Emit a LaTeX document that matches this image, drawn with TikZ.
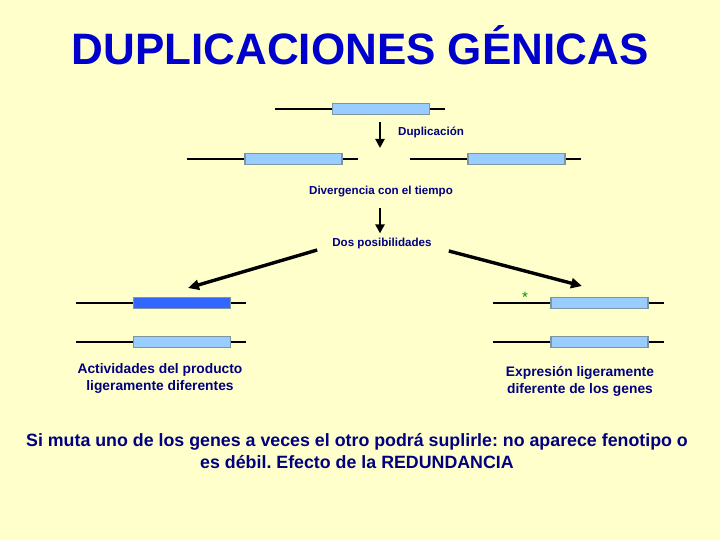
\documentclass[tikz,border=0pt]{standalone}
\usepackage{fontspec}
\setmainfont{Liberation Sans}
\usetikzlibrary{arrows.meta,positioning,calc}
\definecolor{gnbg}{RGB}{255,255,204}
\definecolor{gnbox}{RGB}{153,204,255}
\definecolor{gndark}{RGB}{51,102,255}
\definecolor{gnedge}{RGB}{125,150,160}
\definecolor{gntext}{RGB}{0,0,128}
\definecolor{gntitle}{RGB}{0,0,204}
\definecolor{gnstar}{RGB}{0,140,0}
\tikzset{
  gene/.style={
    draw=gnedge, line width=1.5pt, fill=gnbox,
    minimum width=97pt, minimum height=11pt, inner sep=0pt
  },
  mut/.style={gene, fill=gndark},
  dna/.style={draw=black, line width=2.8pt},
  arr/.style={-{Triangle[length=9pt,width=9pt]}, draw=black, line width=2.8pt},
  darr/.style={arr, line width=3.4pt, -{Triangle[length=11pt,width=10pt]}},
  lbl/.style={text=gntext, font=\bfseries\fontsize{11.6}{13}\selectfont, inner sep=0pt},
  note/.style={text=gntext, font=\bfseries\fontsize{13.8}{17}\selectfont, align=center, inner sep=0pt},
  big/.style={text=gntext, font=\bfseries\fontsize{17.8}{22}\selectfont, align=center, inner sep=0pt},
  ttl/.style={text=gntitle, font=\bfseries\fontsize{44}{48}\selectfont, inner sep=0pt}
}
\begin{document}
\frenchspacing
\begin{tikzpicture}[x=1pt, y=-1pt]
  \useasboundingbox (0,0) rectangle (720,540);
  \fill[gnbg] (0,0) rectangle (720,540);
  \node[ttl] (title) at (360,45) {DUPLICACIONES GÉNICAS};
  % genes
  \node[gene] (g0) at (381,109) {};
  \node[gene] (g1) at (293.5,159) {};
  \node[gene] (g2) at (516.5,159) {};
  \node[mut] (g3) at (182,303) {};
  \node[gene] (g4) at (182,342) {};
  \node[gene] (g5) at (599.5,303) {};
  \node[gene] (g6) at (599.5,342) {};
  \foreach \g in {g0,g1,g2,g3,g4,g5,g6}
    \draw[dna] ($(\g.west)+(-57,0)$) -- (\g.west) (\g.east) -- ($(\g.east)+(15,0)$);
  \node[text=gnstar, font=\fontsize{15}{15}\selectfont, inner sep=0pt] (star) at (525,297) {*};
  % labels
  \node[lbl, anchor=west] (dup) at (398,132) {Duplicación};
  \node[lbl] (div) at (381,192) {Divergencia con el tiempo};
  \node[lbl] (dos) at (382,244) {Dos posibilidades};
  \coordinate (a0) at (380,122);
  \coordinate (a1) at (380,148);
  \draw[arr] (a0) -- (a1);
  \draw[arr] ($(div.south)+(-1,10)$) -- ($(dos.north)+(-2,-5)$);
  \draw[darr] ($(dos.west)+(-15,6)$) -- (188,288);
  \draw[darr] ($(dos.east)+(17,7)$) -- (582,286);
  \node[note] (left) at (160,378) {Actividades del producto\\ligeramente diferentes};
  \node[note] (right) at (580,381) {Expresión ligeramente\\diferente de los genes};
  \node[big] (bottom) at (357,451) {Si muta uno de los genes a veces el otro podrá suplirle: no aparece fenotipo o\\es débil. Efecto de la REDUNDANCIA};
\end{tikzpicture}
\end{document}
